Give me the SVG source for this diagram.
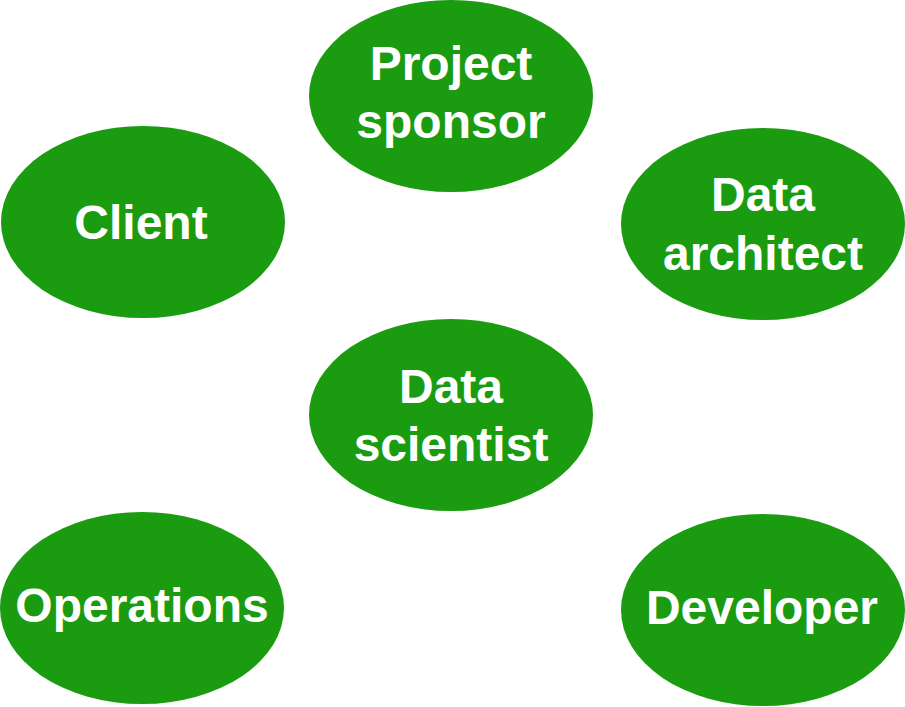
<svg xmlns="http://www.w3.org/2000/svg" width="905" height="707" viewBox="0 0 905 707">
<style>
.n ellipse{fill:#1a9b10;}
.n text{fill:#fff;font-family:"Liberation Sans",Arial,sans-serif;font-weight:bold;font-size:48px;text-anchor:middle;}
</style>
<rect width="905" height="707" fill="#fff"/>
<g id="connectors"></g>
<g id="project-sponsor" class="n"><ellipse cx="451" cy="96" rx="142" ry="96"/><text x="451" y="80">Project</text><text x="451" y="138">sponsor</text></g>
<g id="client" class="n"><ellipse cx="143" cy="222" rx="142" ry="96"/><text x="141" y="239">Client</text></g>
<g id="data-architect" class="n"><ellipse cx="763" cy="224" rx="142" ry="96"/><text x="763" y="211">Data</text><text x="763" y="270">architect</text></g>
<g id="data-scientist" class="n"><ellipse cx="451" cy="415" rx="142" ry="96"/><text x="451" y="403">Data</text><text x="451" y="461">scientist</text></g>
<g id="operations" class="n"><ellipse cx="142" cy="608" rx="142" ry="96"/><text x="142" y="622">Operations</text></g>
<g id="developer" class="n"><ellipse cx="763" cy="610" rx="142" ry="96"/><text x="762" y="624">Developer</text></g>
</svg>
